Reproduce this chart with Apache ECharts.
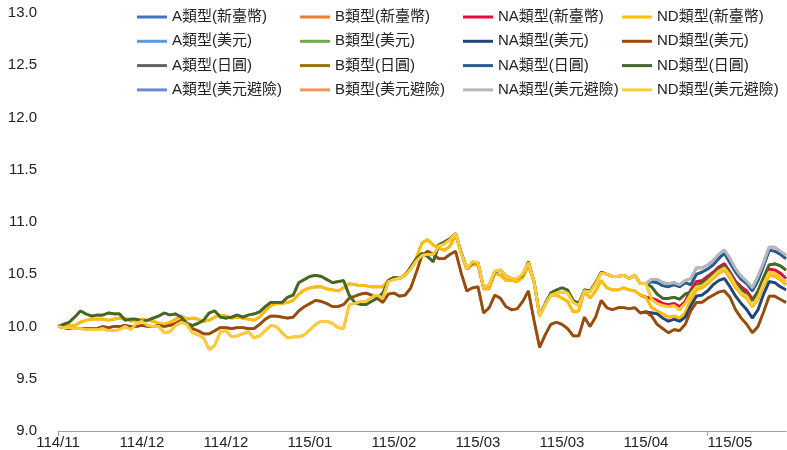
<!DOCTYPE html>
<html>
<head>
<meta charset="utf-8">
<script src="https://cdn.jsdelivr.net/npm/echarts@6/dist/echarts.min.js"></script>
<style>
  html, body { margin: 0; padding: 0; background: #fff; }
  #main { width: 787px; height: 450px; }
</style>
</head>
<body>
<div id="main"></div>
<script>
// x axis: one label every 15 points
const tickLabels = ["114/11", "114/12", "114/12", "115/01", "115/02", "115/03", "115/03", "115/04", "115/05"];
const labelEvery = 15;
const pointCount = 131;
const categories = Array.from({ length: pointCount }, (_, i) => tickLabels[Math.floor(i / labelEvery)]);

// ND classes, full history
const ndTwd = [
  10.00, 10.00, 10.01, 10.01, 10.04, 10.06, 10.07, 10.07, 10.07, 10.06,
  10.07, 10.08, 10.08, 10.05, 10.06, 10.07, 10.06, 10.05, 10.03, 10.02,
  10.04, 10.07, 10.10, 10.07, 10.08, 10.07, 10.05, 10.06, 10.09, 10.11,
  10.10, 10.08, 10.09, 10.08, 10.07, 10.06, 10.09, 10.15, 10.20, 10.22,
  10.22, 10.23, 10.25, 10.31, 10.35, 10.37, 10.38, 10.38, 10.36, 10.35,
  10.34, 10.37, 10.41, 10.40, 10.39, 10.39, 10.38, 10.38, 10.38, 10.44,
  10.47, 10.46, 10.50, 10.56, 10.66, 10.80, 10.83, 10.78, 10.75, 10.73,
  10.77, 10.88, 10.70, 10.55, 10.59, 10.59, 10.36, 10.36, 10.51, 10.49,
  10.44, 10.44, 10.43, 10.47, 10.58, 10.43, 10.10, 10.21, 10.30, 10.30,
  10.27, 10.24, 10.14, 10.15, 10.34, 10.27, 10.34, 10.44, 10.37, 10.35,
  10.35, 10.37, 10.35, 10.34, 10.30, 10.28, 10.18, 10.15, 10.12, 10.09,
  10.10, 10.08, 10.13, 10.25, 10.35, 10.37, 10.41, 10.46, 10.51, 10.54,
  10.46, 10.37, 10.31, 10.27, 10.19, 10.26, 10.39, 10.49, 10.48, 10.45,
  10.40
];
const ndUsd = [
  10.00, 9.99, 9.98, 9.98, 9.98, 9.98, 9.98, 9.98, 10.00, 9.99,
  10.00, 10.00, 10.01, 10.00, 10.00, 10.01, 10.00, 10.00, 10.01, 10.00,
  10.01, 10.03, 10.06, 10.03, 9.98, 9.96, 9.93, 9.93, 9.96, 9.99,
  9.99, 9.98, 9.99, 9.99, 9.98, 9.98, 10.02, 10.07, 10.10, 10.10,
  10.09, 10.08, 10.09, 10.15, 10.19, 10.22, 10.25, 10.24, 10.22, 10.19,
  10.19, 10.21, 10.27, 10.29, 10.31, 10.32, 10.30, 10.27, 10.23, 10.31,
  10.32, 10.29, 10.30, 10.37, 10.52, 10.68, 10.72, 10.69, 10.65, 10.65,
  10.69, 10.72, 10.51, 10.34, 10.37, 10.38, 10.13, 10.18, 10.30, 10.27,
  10.19, 10.16, 10.17, 10.24, 10.34, 10.06, 9.80, 9.92, 10.02, 10.04,
  10.02, 9.98, 9.91, 9.91, 10.09, 10.00, 10.09, 10.25, 10.18, 10.16,
  10.18, 10.18, 10.17, 10.18, 10.13, 10.14, 10.10, 10.02, 9.98, 9.94,
  9.97, 9.96, 10.02, 10.15, 10.23, 10.23, 10.27, 10.30, 10.33, 10.34,
  10.28, 10.16, 10.08, 10.02, 9.94, 10.00, 10.14, 10.29, 10.29, 10.26,
  10.23
];
const ndJpy = [
  10.00, 10.02, 10.04, 10.09, 10.15, 10.12, 10.10, 10.11, 10.11, 10.13,
  10.12, 10.12, 10.06, 10.07, 10.07, 10.05, 10.06, 10.08, 10.10, 10.13,
  10.11, 10.12, 10.09, 10.03, 10.01, 10.03, 10.06, 10.13, 10.15, 10.09,
  10.08, 10.09, 10.11, 10.09, 10.11, 10.12, 10.14, 10.19, 10.23, 10.23,
  10.23, 10.28, 10.30, 10.42, 10.45, 10.48, 10.49, 10.48, 10.45, 10.42,
  10.43, 10.44, 10.30, 10.23, 10.21, 10.21, 10.24, 10.27, 10.32, 10.44,
  10.47, 10.46, 10.49, 10.57, 10.65, 10.70, 10.67, 10.62, 10.78, 10.81,
  10.84, 10.89, 10.71, 10.55, 10.61, 10.61, 10.37, 10.40, 10.52, 10.54,
  10.48, 10.46, 10.46, 10.49, 10.62, 10.43, 10.11, 10.22, 10.32, 10.35,
  10.37, 10.35, 10.25, 10.22, 10.35, 10.34, 10.42, 10.52, 10.50, 10.48,
  10.48, 10.49, 10.46, 10.49, 10.41, 10.41, 10.38, 10.31, 10.27, 10.27,
  10.28, 10.26, 10.31, 10.33, 10.39, 10.42, 10.46, 10.50, 10.55, 10.58,
  10.50, 10.41, 10.36, 10.30, 10.25, 10.34, 10.47, 10.59, 10.60, 10.58,
  10.54
];
const ndHedged = [
  10.00, 9.99, 9.99, 9.98, 9.98, 9.97, 9.97, 9.97, 9.98, 9.96,
  9.96, 9.97, 10.00, 9.97, 10.03, 10.05, 10.01, 10.00, 10.00, 9.94,
  9.95, 10.01, 10.04, 10.02, 9.94, 9.92, 9.89, 9.78, 9.82, 9.95,
  9.96, 9.90, 9.91, 9.93, 9.95, 9.89, 9.91, 9.96, 10.01, 10.00,
  9.94, 9.89, 9.90, 9.90, 9.92, 9.97, 10.02, 10.05, 10.05, 10.03,
  9.99, 9.98, 10.21, 10.22, 10.24, 10.24, 10.28, 10.30, 10.27, 10.43,
  10.45, 10.46, 10.49, 10.55, 10.63, 10.68, 10.69, 10.69, 10.77, 10.79,
  10.83, 10.89, 10.70, 10.55, 10.62, 10.61, 10.37, 10.40, 10.53, 10.54,
  10.48, 10.46, 10.46, 10.50, 10.61, 10.43, 10.10, 10.21, 10.30, 10.32,
  10.33, 10.32, 10.23, 10.20, 10.34, 10.33, 10.41, 10.51, 10.50, 10.48,
  10.48, 10.49, 10.46, 10.49, 10.41, 10.41, 10.26, 10.22, 10.20, 10.19,
  10.20, 10.16, 10.22, 10.31, 10.38, 10.39, 10.43, 10.48, 10.53, 10.56,
  10.49, 10.39, 10.32, 10.29, 10.20, 10.28, 10.41, 10.52, 10.51, 10.47,
  10.43
];

// NA classes only show once they split from ND, from point 104 on
const naStart = 104;
const naTwdTail = [10.30, 10.28, 10.27, 10.25, 10.22, 10.21, 10.22, 10.19, 10.24, 10.35, 10.43, 10.44, 10.48, 10.52, 10.57, 10.60, 10.52, 10.43, 10.38, 10.34, 10.26, 10.33, 10.45, 10.55, 10.54, 10.51, 10.46];
const naUsdTail = [10.13, 10.14, 10.13, 10.12, 10.08, 10.05, 10.07, 10.05, 10.09, 10.20, 10.29, 10.30, 10.34, 10.40, 10.44, 10.46, 10.38, 10.29, 10.22, 10.16, 10.08, 10.16, 10.31, 10.43, 10.42, 10.38, 10.35];
const naJpyTail = [10.41, 10.41, 10.43, 10.42, 10.39, 10.38, 10.40, 10.38, 10.42, 10.40, 10.50, 10.52, 10.55, 10.59, 10.65, 10.70, 10.61, 10.52, 10.45, 10.41, 10.34, 10.44, 10.58, 10.73, 10.72, 10.69, 10.65];
const naHedgedTail = [10.41, 10.41, 10.45, 10.45, 10.42, 10.41, 10.42, 10.40, 10.44, 10.46, 10.56, 10.56, 10.59, 10.63, 10.69, 10.73, 10.65, 10.55, 10.48, 10.43, 10.37, 10.48, 10.61, 10.76, 10.76, 10.72, 10.68];

const withLead = (tail) => new Array(naStart).fill(null).concat(tail);
const naTwd = withLead(naTwdTail);
const naUsd = withLead(naUsdTail);
const naJpy = withLead(naJpyTail);
const naHedged = withLead(naHedgedTail);

// A / B classes lie exactly under NA / ND in the picture
const seriesDefs = [
  ["A類型(新臺幣)", "#4472C4", naTwd],
  ["B類型(新臺幣)", "#ED7D31", ndTwd],
  ["NA類型(新臺幣)", "#E8083E", naTwd],
  ["ND類型(新臺幣)", "#FFC000", ndTwd],
  ["A類型(美元)", "#5B9BD5", naUsd],
  ["B類型(美元)", "#70AD47", ndUsd],
  ["NA類型(美元)", "#264478", naUsd],
  ["ND類型(美元)", "#9E480E", ndUsd],
  ["A類型(日圓)", "#636363", naJpy],
  ["B類型(日圓)", "#997300", ndJpy],
  ["NA類型(日圓)", "#255E91", naJpy],
  ["ND類型(日圓)", "#43682B", ndJpy],
  ["A類型(美元避險)", "#698ED0", naHedged],
  ["B類型(美元避險)", "#F1975A", ndHedged],
  ["NA類型(美元避險)", "#B7B7B7", naHedged],
  ["ND類型(美元避險)", "#FFCD33", ndHedged],
];

const font = "'Liberation Sans', 'Noto Sans CJK TC', sans-serif";
const legendLefts = [137, 300, 463, 622];

const legends = legendLefts.map((left, col) => ({
  orient: "vertical",
  left: left,
  top: 9,
  padding: 0,
  itemWidth: 30,
  itemHeight: 3,
  itemGap: 8.3,
  icon: "rect",
  selectedMode: false,
  textStyle: { fontFamily: font, fontSize: 15, color: "#222", lineHeight: 16 },
  data: [0, 1, 2, 3].map((row) => seriesDefs[row * 4 + col][0]),
}));

const chart = echarts.init(document.getElementById("main"));

const option = {
  animation: false,
  legend: legends,
  grid: { left: 58, right: 1, top: 13, bottom: 17 },
  xAxis: {
    type: "category",
    data: categories,
    boundaryGap: false,
    axisLine: { lineStyle: { color: "#9f9f9f", width: 1 } },
    axisTick: { show: true, interval: 115, length: 5, lineStyle: { color: "#9f9f9f" } },
    axisLabel: {
      interval: labelEvery - 1,
      margin: 4,
      fontFamily: font,
      fontSize: 15,
      color: "#222",
    },
    splitLine: { show: false },
  },
  yAxis: {
    type: "value",
    min: 9,
    max: 13,
    interval: 0.5,
    axisLine: { show: false },
    axisTick: { show: false },
    splitLine: { show: false },
    axisLabel: {
      margin: 21,
      fontFamily: font,
      fontSize: 15,
      color: "#222",
      formatter: (v) => v.toFixed(1),
    },
  },
  series: seriesDefs.map(([name, color, data]) => ({
    name: name,
    type: "line",
    data: data,
    color: color,
    symbol: "none",
    showSymbol: false,
    lineStyle: { color: color, width: 2.75 },
    emphasis: { disabled: true },
  })),
};

chart.setOption(option);
</script>
</body>
</html>
